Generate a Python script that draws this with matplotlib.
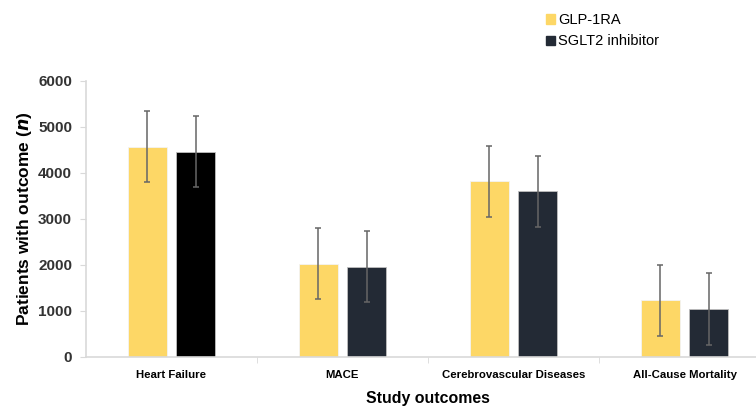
import matplotlib
matplotlib.use('Agg')
import matplotlib.pyplot as plt
import numpy as np
from matplotlib.patches import Patch

plt.rcParams['font.family'] = ['Liberation Sans', 'DejaVu Sans']

outcomes = ["Heart Failure", "MACE", "Cerebrovascular Diseases", "All-Cause Mortality"]
glp1 = [4570, 2030, 3820, 1230]
glp1_err = [770, 775, 770, 780]
sglt2 = [4460, 1960, 3600, 1040]
sglt2_err = [775, 770, 780, 780]

yellow = "#FDD766"
dark = "#232A35"
sglt2_colors = ["#000000", dark, dark, dark]


def main():
    fig = plt.figure(figsize=(7.56, 4.07), dpi=100)
    ax = fig.add_axes([86 / 756, 50 / 407, 684 / 756, 276 / 407])
    x = np.arange(len(outcomes))
    w = 0.228
    off = 0.143
    ekw = dict(ecolor="#666666", elinewidth=1.1, capsize=2.5, capthick=1.1)
    ax.bar(x - off, glp1, w, color=yellow, edgecolor="#F3F3F3", linewidth=0.6,
           yerr=glp1_err, error_kw=ekw, zorder=2)
    ax.bar(x + off, sglt2, w, color=sglt2_colors, edgecolor="#BFBFBF", linewidth=0.6,
           yerr=sglt2_err, error_kw=ekw, zorder=2)

    ax.set_xlim(-0.5, 3.5)
    ax.set_ylim(0, 6000)
    ax.set_yticks(range(0, 6001, 1000))
    ax.set_yticklabels([str(v) for v in range(0, 6001, 1000)],
                       fontsize=11, fontweight="bold", color="#333333")
    ax.set_xticks(x)
    ax.set_xticklabels(outcomes, fontsize=8.2, fontweight="bold")
    ax.tick_params(axis="x", length=0, pad=9)
    ax.set_xticks([0.5, 1.5, 2.5], minor=True)
    ax.tick_params(axis="x", which="minor", length=4, color="#D9D9D9")
    ax.tick_params(axis="y", length=4, color="#D9D9D9", pad=6)

    for s in ["top", "right"]:
        ax.spines[s].set_visible(False)
    for s in ["left", "bottom"]:
        ax.spines[s].set_color("#D9D9D9")
        ax.spines[s].set_linewidth(1.2)

    ax.set_xlabel("Study outcomes", fontsize=11.4, fontweight="bold", labelpad=8)
    ax.set_ylabel("Patients with outcome ($\\boldsymbol{n}$)", fontsize=12.5,
                  fontweight="bold", labelpad=3)

    handles = [Patch(color=yellow), Patch(color=dark)]
    fig.legend(handles, ["GLP-1RA", "SGLT2 inhibitor"], loc="upper left",
               bbox_to_anchor=(0.705, 1.0), frameon=False, fontsize=10.5,
               handlelength=0.62, handleheight=0.62, handletextpad=0.2,
               labelspacing=0.5)

    fig.savefig("out.png", dpi=100)


if __name__ == "__main__":
    main()
